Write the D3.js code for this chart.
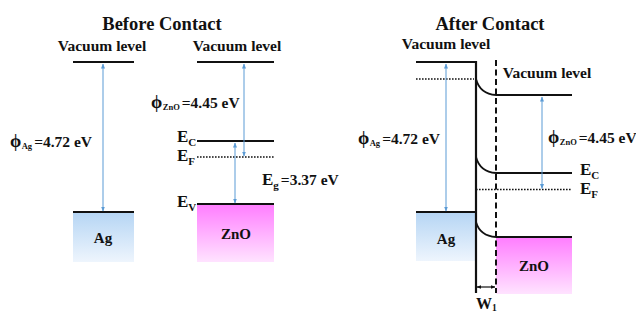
<!DOCTYPE html>
<html>
<head>
<meta charset="utf-8">
<script src="https://cdn.jsdelivr.net/npm/d3@7"></script>
<style>
  body { margin: 0; background: #fff; }
  text { font-family: "Liberation Serif", "DejaVu Serif", serif; font-weight: bold; fill: #111; }
</style>
</head>
<body>
<div id="chart"></div>
<script>
// panel titles + labels
const titles = ["Before Contact", "After Contact"];
const workFn = [4.72, 4.45];   // Ag, ZnO (eV)
const bandGap = 3.37;

// level depths below vacuum level, in diagram units (not to scale)
// before contact
const beforeAg = [0, 75, 100];                 // vacuum, E_F, box bottom
const beforeZnO = [0, 39.5, 47.5, 71, 100];    // vacuum, E_C, E_F, E_V, box bottom
// after contact
const afterAg = [0, 8.5, 75, 99.5];            // vacuum, shifted vacuum (dotted), E_F, box bottom
const afterZnO = [16.5, 55.5, 63.75, 87.5, 116]; // vacuum, E_C, E_F, E_V, box bottom
const bendTop = [8.5, 47.5, 80];               // vacuum, E_C, E_V at interface

const W = 636, H = 315;
const svg = d3.select('#chart').append('svg').attr('width', W).attr('height', H);

const y = d3.scaleLinear().domain([0, 100]).range([62, 262]);

const defs = svg.append('defs');
defs.append('marker').attr('id', 'arr').attr('viewBox', '0 0 10 10')
  .attr('refX', 9).attr('refY', 5).attr('markerWidth', 5).attr('markerHeight', 5)
  .attr('orient', 'auto-start-reverse')
  .append('path').attr('d', 'M0,1 L10,5 L0,9 Z').attr('fill', '#5b9bd5');
defs.append('marker').attr('id', 'arrk').attr('viewBox', '0 0 10 10')
  .attr('refX', 9).attr('refY', 5).attr('markerWidth', 4).attr('markerHeight', 4)
  .attr('orient', 'auto-start-reverse')
  .append('path').attr('d', 'M0,1 L10,5 L0,9 Z').attr('fill', '#111');

let g1 = defs.append('linearGradient').attr('id', 'agG').attr('x1', 0).attr('x2', 0).attr('y1', 0).attr('y2', 1);
g1.append('stop').attr('offset', 0).attr('stop-color', '#b5d5f4');
g1.append('stop').attr('offset', 1).attr('stop-color', '#eef5fd');
let g2 = defs.append('linearGradient').attr('id', 'znG').attr('x1', 0).attr('x2', 0).attr('y1', 0).attr('y2', 1);
g2.append('stop').attr('offset', 0).attr('stop-color', '#ff7dff');
g2.append('stop').attr('offset', 1).attr('stop-color', '#ffe3ff');

function hline(x1, x2, v, dotted) {
  svg.append('line').attr('x1', x1).attr('x2', x2).attr('y1', y(v)).attr('y2', y(v))
    .attr('stroke', '#111').attr('stroke-width', dotted ? 1.6 : 2.2)
    .attr('stroke-dasharray', dotted ? '1.6,1.4' : null);
}
function arrow(x, v1, v2, o1, o2) {
  svg.append('line').attr('x1', x).attr('x2', x).attr('y1', y(v1) + o1).attr('y2', y(v2) + o2)
    .attr('stroke', '#5b9bd5').attr('stroke-width', 1)
    .attr('marker-start', 'url(#arr)').attr('marker-end', 'url(#arr)');
}
function box(x1, x2, v1, v2, fill) {
  svg.append('rect').attr('x', x1).attr('y', y(v1)).attr('width', x2 - x1)
    .attr('height', y(v2) - y(v1)).attr('fill', fill);
}
function label(x, yy, parts, size, anchor) {
  const t = svg.append('text').attr('x', x).attr('y', yy).attr('font-size', size)
    .attr('text-anchor', anchor || 'start');
  parts.forEach(p => {
    const s = t.append('tspan').text(p[0]);
    if (p[1]) s.attr('font-size', p[1]);
    if (p[2]) s.attr('dy', p[2]);
    if (p[3]) s.attr('dx', p[3]);
  });
  return t;
}
function phiLabel(x, yy, sub, val) {
  label(x, yy, [['\u03d5', 18], [sub, 8.5, 2, 0.5], ['=' + val.toFixed(2) + ' eV', 15.5, -2, 2]], 15.5);
}
function eLabel(x, yy, sub) {
  label(x, yy, [['E', 17], [sub, 11, 4]], 17);
}

// ---------- Before contact ----------
const agX = [73, 134], znX = [197, 274];
label(162, 30, [[titles[0]]], 18.5, 'middle');
label(102, 51, [['Vacuum level']], 15.5, 'middle');
label(237, 51, [['Vacuum level']], 15.5, 'middle');

box(agX[0], agX[1], beforeAg[1], beforeAg[2], 'url(#agG)');
box(znX[0], znX[1], beforeZnO[3], beforeZnO[4], 'url(#znG)');
hline(agX[0], agX[1], beforeAg[0]);
hline(agX[0], agX[1], beforeAg[1]);
hline(znX[0], znX[1], beforeZnO[0]);
hline(znX[0], znX[1], beforeZnO[1]);
hline(znX[0], znX[1], beforeZnO[2], true);
hline(znX[0], znX[1], beforeZnO[3]);

arrow(103, beforeAg[0], beforeAg[1], 2, -1);
arrow(244, beforeZnO[0], beforeZnO[2], 2, -1);
arrow(235, beforeZnO[1], beforeZnO[3], 2, -1);

phiLabel(10, 147, 'Ag', workFn[0]);
phiLabel(151, 108, 'ZnO', workFn[1]);
eLabel(177, 142, 'C');
eLabel(177, 161, 'F');
eLabel(177, 207, 'V');
label(262, 185, [['E', 17], ['g', 11, 4], ['=' + bandGap.toFixed(2) + ' eV', 15.5, -4, 2]], 15.5);
label(103, 243, [['Ag']], 15, 'middle');
label(236, 239, [['ZnO']], 15, 'middle');

// ---------- After contact ----------
const agX2 = [416, 476], znX2 = [496, 572];
label(490, 30, [[titles[1]]], 18.5, 'middle');
label(446, 49, [['Vacuum level']], 15.5, 'middle');
label(547, 78, [['Vacuum level']], 15.5, 'middle');

box(agX2[0], agX2[1], afterAg[2], afterAg[3], 'url(#agG)');
box(znX2[0], znX2[1], afterZnO[3], afterZnO[4], 'url(#znG)');

hline(agX2[0], agX2[1], afterAg[0]);
hline(agX2[0], agX2[1] - 2, afterAg[1], true);
hline(agX2[0], agX2[1], afterAg[2]);
hline(znX2[0], znX2[1], afterZnO[0]);
hline(znX2[0], znX2[1], afterZnO[1]);
hline(agX2[1], znX2[1], afterZnO[2], true);
hline(znX2[0], znX2[1], afterZnO[3]);

// band bending curves
[[bendTop[0], afterZnO[0]], [bendTop[1], afterZnO[1]], [bendTop[2], afterZnO[3]]].forEach(b => {
  const x0 = agX2[1], x1 = znX2[0];
  svg.append('path')
    .attr('d', `M${x0},${y(b[0])} Q${x0 + 4},${y(b[1]) - 1} ${x1},${y(b[1])}`)
    .attr('fill', 'none').attr('stroke', '#111').attr('stroke-width', 1.8);
});

// metal surface + depletion edge
svg.append('line').attr('x1', agX2[1]).attr('x2', agX2[1]).attr('y1', y(afterAg[0]) - 1).attr('y2', y(afterZnO[4]) - 1)
  .attr('stroke', '#111').attr('stroke-width', 2.2);
svg.append('line').attr('x1', znX2[0]).attr('x2', znX2[0]).attr('y1', y(afterAg[0]) - 2).attr('y2', y(afterZnO[4]) - 1)
  .attr('stroke', '#111').attr('stroke-width', 2).attr('stroke-dasharray', '6,3.5');

arrow(446, afterAg[0], afterAg[2], 2, -1);
arrow(542, afterZnO[0], afterZnO[2], 2, -1);

// W1
svg.append('line').attr('x1', agX2[1] + 1).attr('x2', znX2[0] - 1).attr('y1', 287).attr('y2', 287)
  .attr('stroke', '#111').attr('stroke-width', 1.2)
  .attr('marker-start', 'url(#arrk)').attr('marker-end', 'url(#arrk)');
label(476, 309, [['W', 16], ['1', 9.5, 2]], 16);

phiLabel(358, 144, 'Ag', workFn[0]);
phiLabel(548, 143, 'ZnO', workFn[1]);
eLabel(580, 175, 'C');
eLabel(580, 194, 'F');
label(446, 244, [['Ag']], 15, 'middle');
label(534, 271, [['ZnO']], 15, 'middle');
</script>
</body>
</html>
